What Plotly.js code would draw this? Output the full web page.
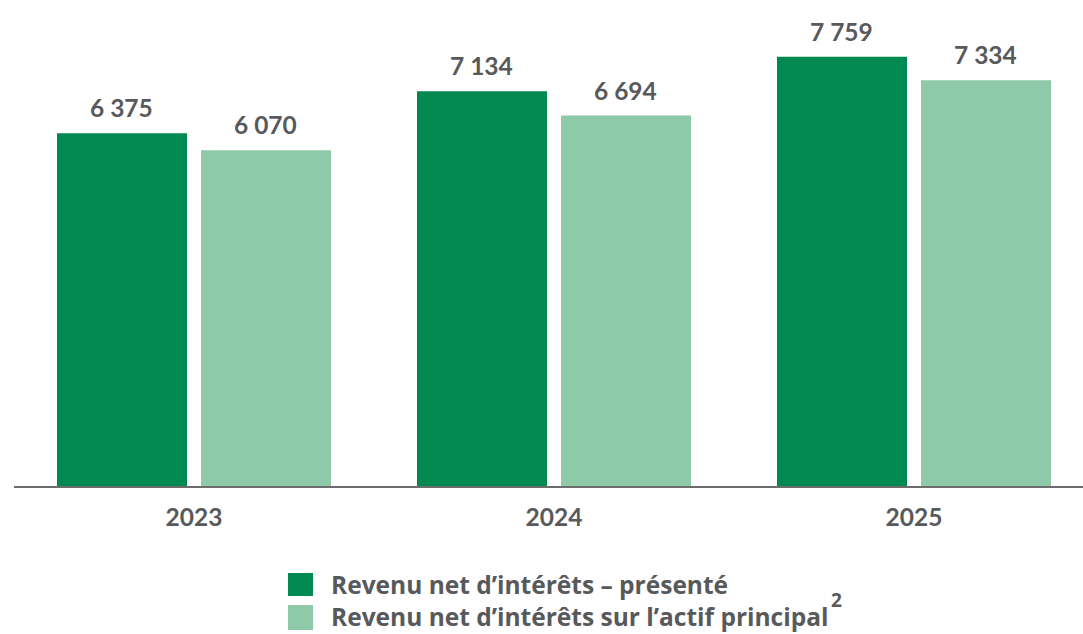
<!DOCTYPE html>
<html>
<head>
<meta charset="utf-8">
<script src="https://cdn.plot.ly/plotly-3.0.1.min.js"></script>
<style>
  html, body { margin: 0; padding: 0; background: #fff; }
  #plot { width: 1083px; height: 634px; }
</style>
</head>
<body>
<div id="plot"></div>
<script>
// chart data
const years = ['2023', '2024', '2025'];
const reported = [6375, 7134, 7759];
const coreAssets = [6070, 6694, 7334];
const seriesNames = [
  'Revenu net d\u2019intérêts \u2013 présenté',
  'Revenu net d\u2019intérêts sur l\u2019actif principal'
];
const footnote = '2';

const darkGreen = '#008A52';
const lightGreen = '#8FCAA8';
const textGrey = '#58595B';
const numFont = 'Lato, "Open Sans", sans-serif';
const legendFont = '"Open Sans", Lato, sans-serif';

// plot area in pixels
const W = 1083, H = 634;
const plotLeft = 14, plotRight = 1083, plotTop = 20, plotBottom = 486;
const pw = plotRight - plotLeft, ph = plotBottom - plotTop;
const px = x => (x - plotLeft) / pw;
const py = y => (plotBottom - y) / ph;

// format 6375 -> "6 375"
function fmt(v) {
  return String(v).replace(/\B(?=(\d{3})+(?!\d))/g, ' ');
}

const traces = [
  { name: seriesNames[0], x: years, y: reported, color: darkGreen, shift: -72 },
  { name: seriesNames[1], x: years, y: coreAssets, color: lightGreen, shift: 72 }
];

const data = traces.map(t => ({
  type: 'bar',
  name: t.name,
  x: t.x,
  y: t.y,
  marker: { color: t.color },
  hoverinfo: 'skip',
  showlegend: false
}));

// value labels above bars
const annotations = [];
traces.forEach(t => {
  t.y.forEach((v, i) => {
    annotations.push({
      x: i, y: v, xref: 'x', yref: 'y',
      text: fmt(v), showarrow: false,
      xanchor: 'center', yanchor: 'bottom',
      xshift: t.shift - 1, yshift: 9,
      font: { family: numFont, size: 24.5, color: textGrey, weight: 700 }
    });
  });
});

// manual legend (box bottoms given in pixels)
const shapes = [];
const legendRows = [
  { color: darkGreen, top: 573, bottom: 596, textBottom: 602, text: seriesNames[0] },
  { color: lightGreen, top: 605, bottom: 630, textBottom: 634, text: seriesNames[1] }
];
legendRows.forEach(r => {
  shapes.push({
    type: 'rect', xref: 'paper', yref: 'paper',
    x0: px(288), x1: px(313), y0: py(r.top), y1: py(r.bottom),
    fillcolor: r.color, line: { width: 0 }
  });
  annotations.push({
    xref: 'paper', yref: 'paper', x: px(330), y: py(r.textBottom),
    xanchor: 'left', yanchor: 'bottom', showarrow: false, borderpad: 0,
    text: r.text,
    font: { family: legendFont, size: 24.5, color: textGrey, weight: 700 }
  });
});
// footnote marker after second legend entry
annotations.push({
  xref: 'paper', yref: 'paper', x: px(836), y: py(600),
  xanchor: 'center', yanchor: 'middle', showarrow: false,
  text: footnote,
  font: { family: legendFont, size: 19, color: textGrey, weight: 700 }
});

const layout = {
  width: W, height: H,
  margin: { l: plotLeft, r: W - plotRight, t: plotTop, b: H - plotBottom, pad: 0 },
  paper_bgcolor: '#ffffff',
  plot_bgcolor: '#ffffff',
  barmode: 'group',
  bargap: 0.2,
  bargroupgap: 0.0972,
  showlegend: false,
  xaxis: {
    type: 'category',
    range: [-0.5, -0.5 + pw / 360],
    showline: true, linecolor: '#6D6D6D', linewidth: 2,
    showgrid: false, zeroline: false, ticks: '',
    ticklabelstandoff: 9,
    tickfont: { family: numFont, size: 24.5, color: textGrey, weight: 700 },
    fixedrange: true
  },
  yaxis: {
    range: [0, ph / 0.05533],
    visible: false, showgrid: false, zeroline: false,
    fixedrange: true
  },
  annotations: annotations,
  shapes: shapes,
  font: { family: numFont, color: textGrey }
};

Plotly.newPlot('plot', data, layout, { displayModeBar: false, staticPlot: true });
</script>
</body>
</html>
